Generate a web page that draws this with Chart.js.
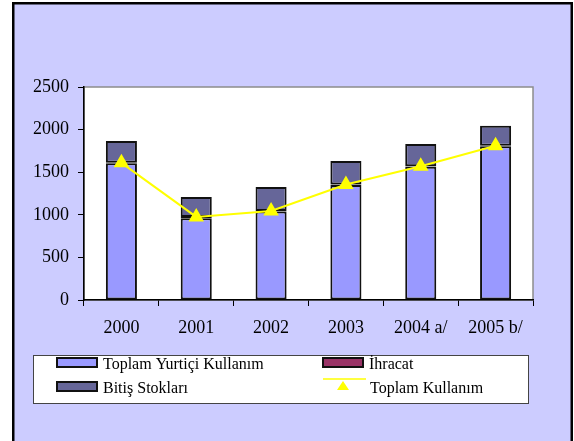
<!DOCTYPE html>
<html>
<head>
<meta charset="utf-8">
<script src="https://cdn.jsdelivr.net/npm/chart.js@4"></script>
<style>
  html, body { margin: 0; padding: 0; background: #ffffff; }
  canvas { display: block; }
</style>
</head>
<body>
<canvas id="chart" width="574" height="441"></canvas>
<script>
const years = ["2000", "2001", "2002", "2003", "2004 a/", "2005 b/"];
const domesticUse = [1605, 960, 1040, 1350, 1565, 1805];
const exports = [5, 15, 5, 5, 5, 5];
const endingStocks = [255, 235, 280, 275, 260, 235];
const totalUse = [1610, 975, 1045, 1355, 1570, 1810];
const yTicks = [0, 500, 1000, 1500, 2000, 2500];

const serif = "'Liberation Serif', 'Times New Roman', serif";

// lavender frame behind everything, white plot area with grey edge
const framePlugin = {
  id: "frame",
  beforeDraw(chart) {
    const { ctx, chartArea: a } = chart;
    ctx.save();
    ctx.fillStyle = "#ccccff";
    ctx.fillRect(13, 2, 559, 445);
    ctx.lineWidth = 2.5;
    ctx.strokeStyle = "#000";
    ctx.strokeRect(13.25, 3.25, 558.5, 445);
    ctx.fillStyle = "#fff";
    ctx.fillRect(a.left, a.top, a.right - a.left, a.bottom - a.top);
    ctx.lineWidth = 1.5;
    ctx.strokeStyle = "#8c8c8c";
    ctx.strokeRect(a.left, a.top, a.right - a.left, a.bottom - a.top);
    ctx.restore();
  }
};

// boxed two-column legend under the chart
const boxLegend = {
  id: "boxLegend",
  afterDraw(chart) {
    const ctx = chart.ctx;
    const ds = chart.data.datasets;
    ctx.save();
    ctx.fillStyle = "#fff";
    ctx.fillRect(33, 355, 495, 48);
    ctx.lineWidth = 1;
    ctx.strokeStyle = "#444";
    ctx.strokeRect(33.5, 355.5, 495, 48);

    const slots = [
      { i: 0, x: 57, y: 365 },
      { i: 1, x: 323, y: 365 },
      { i: 2, x: 57, y: 389 },
      { i: 3, x: 323, y: 389 }
    ];
    ctx.font = "16px " + serif;
    ctx.textBaseline = "middle";
    slots.forEach(s => {
      const d = ds[s.i];
      if (d.type === "line") {
        ctx.strokeStyle = d.borderColor;
        ctx.lineWidth = 1.5;
        ctx.beginPath();
        ctx.moveTo(s.x, s.y - 10);
        ctx.lineTo(s.x + 43, s.y - 10);
        ctx.stroke();
        ctx.fillStyle = d.pointBackgroundColor;
        ctx.beginPath();
        ctx.moveTo(s.x + 20, s.y - 8);
        ctx.lineTo(s.x + 26, s.y + 1);
        ctx.lineTo(s.x + 14, s.y + 1);
        ctx.closePath();
        ctx.fill();
        ctx.fillStyle = "#000";
        ctx.fillText(d.label, s.x + 47, s.y);
      } else {
        ctx.fillStyle = d.backgroundColor;
        ctx.fillRect(s.x, s.y - 7, 40, 9);
        ctx.lineWidth = 2;
        ctx.strokeStyle = "#111";
        ctx.strokeRect(s.x, s.y - 7, 40, 9);
        ctx.fillStyle = "#000";
        ctx.fillText(d.label, s.x + 46, s.y);
      }
    });
    ctx.restore();
  }
};

new Chart(document.getElementById("chart"), {
  data: {
    labels: years,
    datasets: [
      {
        type: "bar",
        label: "Toplam Yurtiçi Kullanım",
        data: domesticUse,
        backgroundColor: "#9999ff",
        borderColor: "#111",
        borderWidth: 2,
        borderSkipped: false,
        stack: "bars",
        order: 1
      },
      {
        type: "bar",
        label: "İhracat",
        data: exports,
        backgroundColor: "#993366",
        borderColor: "#111",
        borderWidth: 2,
        borderSkipped: false,
        stack: "bars",
        order: 1
      },
      {
        type: "bar",
        label: "Bitiş Stokları",
        data: endingStocks,
        backgroundColor: "#666699",
        borderColor: "#111",
        borderWidth: 2,
        borderSkipped: false,
        stack: "bars",
        order: 1
      },
      {
        type: "line",
        label: "Toplam Kullanım",
        data: totalUse,
        borderColor: "#ffff00",
        borderWidth: 2,
        pointStyle: "triangle",
        pointRadius: 7,
        pointBackgroundColor: "#ffff00",
        pointBorderColor: "#ffff00",
        stack: "line",
        order: 0
      }
    ]
  },
  options: {
    responsive: false,
    animation: false,
    layout: { padding: { top: 87, right: 41, bottom: 101, left: 0 } },
    datasets: {
      bar: { categoryPercentage: 1, barPercentage: 0.415 }
    },
    plugins: {
      legend: { display: false },
      tooltip: { enabled: false }
    },
    scales: {
      x: {
        stacked: true,
        grid: {
          offset: true,
          drawOnChartArea: false,
          color: "#000",
          tickLength: 6
        },
        border: { color: "#000", width: 1.5 },
        ticks: { color: "#000", font: { family: serif, size: 18 }, padding: 11, maxRotation: 0 },
        afterFit(scale) { scale.height = 40; }
      },
      y: {
        stacked: true,
        min: 0,
        max: 2500,
        afterBuildTicks(scale) { scale.ticks = yTicks.map(v => ({ value: v })); },
        grid: {
          drawOnChartArea: false,
          color: "#000",
          tickLength: 6
        },
        border: { color: "#000", width: 1.5 },
        ticks: {
          color: "#000",
          font: { family: serif, size: 18 },
          padding: 9,
          callback: v => String(v)
        },
        afterFit(scale) { scale.width = 84; }
      }
    }
  },
  plugins: [framePlugin, boxLegend]
});
</script>
</body>
</html>
